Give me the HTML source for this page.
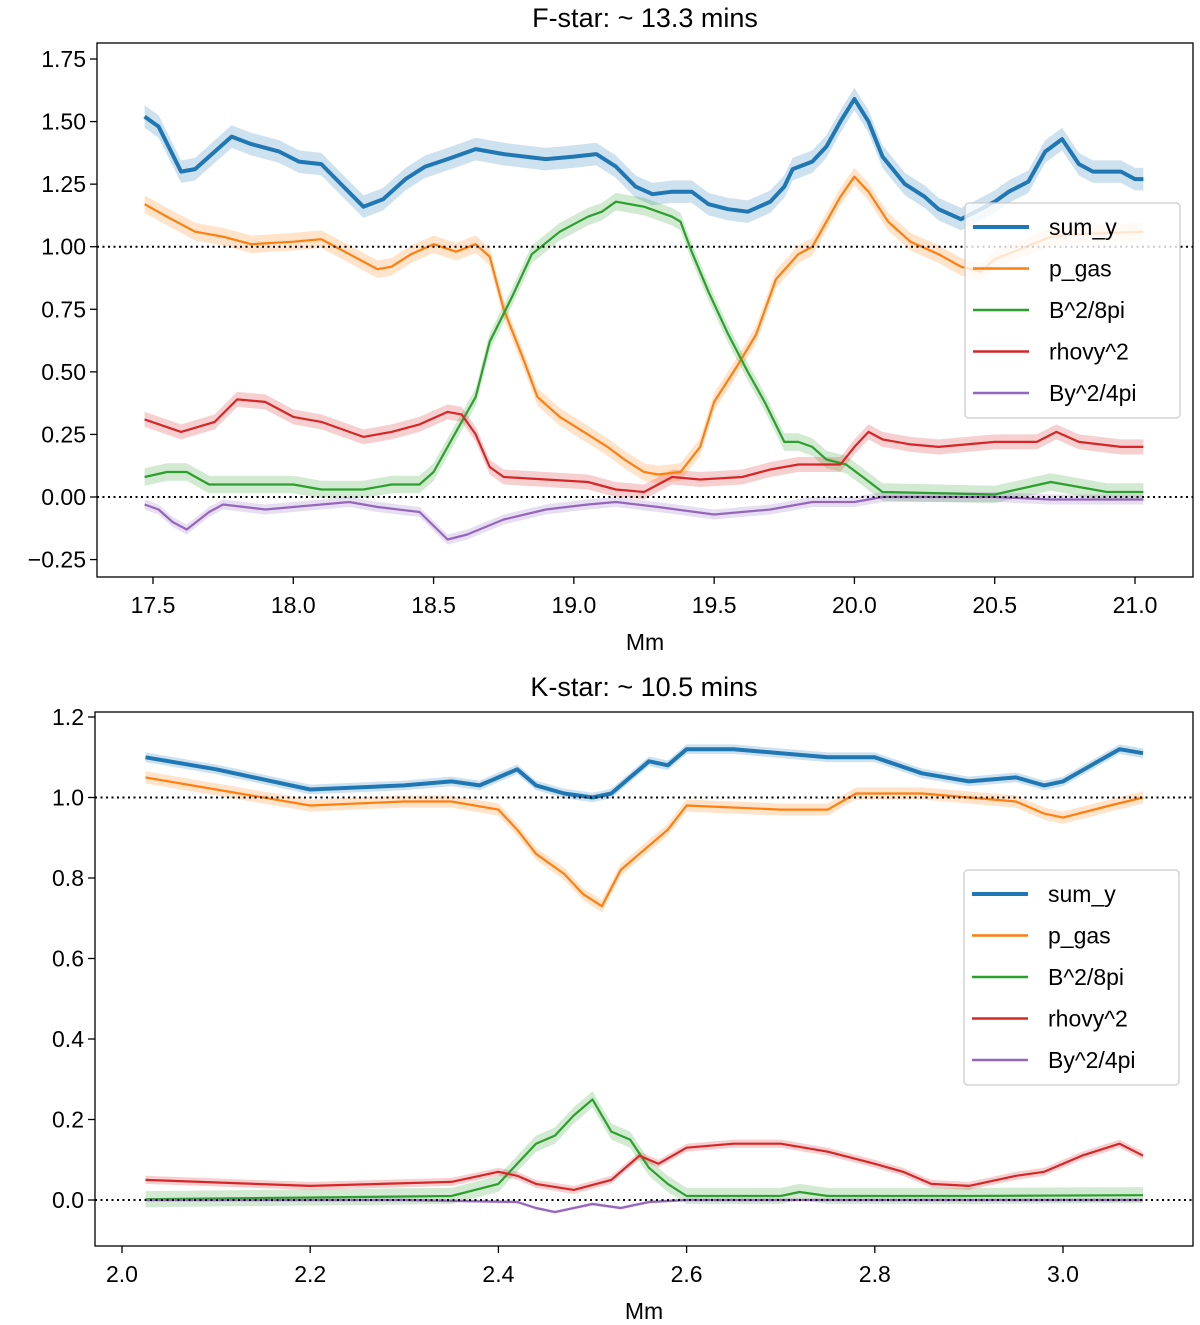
<!DOCTYPE html>
<html><head><meta charset="utf-8">
<style>
body{margin:0;background:#fff;}
svg{display:block;font-family:"Liberation Sans","DejaVu Sans",sans-serif;}
</style></head>
<body>
<svg id="chart" width="1200" height="1325" viewBox="0 0 1200 1325"></svg>
<script>
// ---- Top panel data (F-star) ----
const topSumX=[17.47,17.52,17.6,17.65,17.72,17.78,17.85,17.95,18.02,18.1,18.17,18.25,18.32,18.4,18.47,18.55,18.65,18.75,18.9,19.0,19.08,19.15,19.22,19.28,19.35,19.42,19.48,19.55,19.62,19.7,19.75,19.78,19.85,19.9,19.95,20.0,20.05,20.1,20.18,20.25,20.3,20.38,20.45,20.5,20.55,20.62,20.68,20.74,20.8,20.85,20.95,21.0,21.03];
const topSumY=[1.52,1.48,1.30,1.31,1.38,1.44,1.41,1.38,1.34,1.33,1.25,1.16,1.19,1.27,1.32,1.35,1.39,1.37,1.35,1.36,1.37,1.32,1.24,1.21,1.22,1.22,1.17,1.15,1.14,1.18,1.24,1.31,1.34,1.40,1.50,1.59,1.50,1.36,1.25,1.20,1.15,1.11,1.15,1.18,1.22,1.26,1.38,1.43,1.33,1.30,1.30,1.27,1.27];
const topPgX=[17.47,17.55,17.65,17.75,17.85,18.0,18.1,18.2,18.3,18.35,18.42,18.5,18.58,18.65,18.7,18.75,18.82,18.87,18.95,19.05,19.12,19.18,19.25,19.3,19.38,19.45,19.5,19.58,19.65,19.72,19.8,19.85,19.9,19.95,20.0,20.05,20.12,20.2,20.3,20.38,20.45,20.5,20.7,20.8,21.03];
const topPgY=[1.17,1.12,1.06,1.04,1.01,1.02,1.03,0.97,0.91,0.92,0.97,1.01,0.98,1.01,0.96,0.75,0.55,0.40,0.32,0.25,0.20,0.15,0.10,0.09,0.10,0.20,0.38,0.52,0.65,0.87,0.97,1.00,1.10,1.20,1.28,1.22,1.10,1.02,0.97,0.92,0.90,0.95,1.04,1.05,1.06];
const topBX=[17.47,17.55,17.62,17.7,17.8,18.0,18.1,18.25,18.35,18.45,18.5,18.55,18.6,18.65,18.7,18.78,18.85,18.95,19.05,19.1,19.15,19.25,19.35,19.38,19.42,19.48,19.55,19.62,19.68,19.75,19.8,19.85,19.9,19.97,20.03,20.1,20.5,20.62,20.7,20.8,20.9,21.03];
const topBY=[0.08,0.10,0.10,0.05,0.05,0.05,0.03,0.03,0.05,0.05,0.10,0.20,0.30,0.40,0.62,0.80,0.97,1.06,1.12,1.14,1.18,1.16,1.12,1.10,0.98,0.82,0.65,0.50,0.38,0.22,0.22,0.20,0.15,0.13,0.08,0.02,0.01,0.04,0.06,0.04,0.02,0.02];
const topRX=[17.47,17.6,17.72,17.8,17.9,18.0,18.1,18.25,18.35,18.45,18.55,18.6,18.65,18.7,18.75,18.9,19.05,19.15,19.25,19.35,19.45,19.6,19.7,19.8,19.95,20.0,20.05,20.1,20.2,20.3,20.5,20.65,20.72,20.8,20.95,21.03];
const topRY=[0.31,0.26,0.30,0.39,0.38,0.32,0.30,0.24,0.26,0.29,0.34,0.33,0.25,0.12,0.08,0.07,0.06,0.03,0.02,0.08,0.07,0.08,0.11,0.13,0.13,0.20,0.26,0.23,0.21,0.20,0.22,0.22,0.26,0.22,0.20,0.20];
const topVX=[17.47,17.52,17.57,17.62,17.7,17.75,17.9,18.1,18.2,18.3,18.45,18.55,18.62,18.75,18.9,19.05,19.15,19.3,19.5,19.7,19.85,20.0,20.1,20.5,20.7,21.03];
const topVY=[-0.03,-0.05,-0.10,-0.13,-0.06,-0.03,-0.05,-0.03,-0.02,-0.04,-0.06,-0.17,-0.15,-0.09,-0.05,-0.03,-0.02,-0.04,-0.07,-0.05,-0.02,-0.02,0.0,0.0,-0.01,-0.01];
const topXTicks=[17.5,18.0,18.5,19.0,19.5,20.0,20.5,21.0];
const topXLabels=["17.5","18.0","18.5","19.0","19.5","20.0","20.5","21.0"];
const topYTicks=[-0.25,0,0.25,0.5,0.75,1.0,1.25,1.5,1.75];
const topYLabels=["\u22120.25","0.00","0.25","0.50","0.75","1.00","1.25","1.50","1.75"];
// ---- Bottom panel data (K-star) ----
const botSumX=[2.025,2.1,2.2,2.3,2.35,2.38,2.4,2.42,2.44,2.47,2.5,2.52,2.54,2.56,2.58,2.6,2.65,2.7,2.75,2.8,2.85,2.9,2.95,2.98,3.0,3.03,3.06,3.085];
const botSumY=[1.10,1.07,1.02,1.03,1.04,1.03,1.05,1.07,1.03,1.01,1.00,1.01,1.05,1.09,1.08,1.12,1.12,1.11,1.10,1.10,1.06,1.04,1.05,1.03,1.04,1.08,1.12,1.11];
const botPgX=[2.025,2.1,2.2,2.3,2.35,2.4,2.42,2.44,2.47,2.49,2.51,2.53,2.55,2.58,2.6,2.7,2.75,2.78,2.85,2.95,2.98,3.0,3.05,3.085];
const botPgY=[1.05,1.02,0.98,0.99,0.99,0.97,0.92,0.86,0.81,0.76,0.73,0.82,0.86,0.92,0.98,0.97,0.97,1.01,1.01,0.99,0.96,0.95,0.98,1.00];
const botBX=[2.025,2.35,2.4,2.42,2.44,2.46,2.48,2.5,2.52,2.54,2.56,2.58,2.6,2.7,2.72,2.75,2.9,3.085];
const botBY=[0.002,0.01,0.04,0.09,0.14,0.16,0.21,0.25,0.17,0.15,0.08,0.04,0.01,0.01,0.02,0.01,0.01,0.012];
const botRX=[2.025,2.2,2.35,2.4,2.42,2.44,2.48,2.52,2.55,2.57,2.6,2.65,2.7,2.75,2.8,2.83,2.86,2.9,2.95,2.98,3.02,3.06,3.085];
const botRY=[0.05,0.035,0.045,0.07,0.06,0.04,0.025,0.05,0.11,0.09,0.13,0.14,0.14,0.12,0.09,0.07,0.04,0.035,0.06,0.07,0.11,0.14,0.11];
const botVX=[2.025,2.3,2.42,2.44,2.46,2.5,2.53,2.56,2.6,3.085];
const botVY=[0,0,-0.005,-0.02,-0.03,-0.01,-0.02,-0.005,0,0];
const botXTicks=[2.0,2.2,2.4,2.6,2.8,3.0];
const botXLabels=["2.0","2.2","2.4","2.6","2.8","3.0"];
const botYTicks=[0,0.2,0.4,0.6,0.8,1.0,1.2];
const botYLabels=["0.0","0.2","0.4","0.6","0.8","1.0","1.2"];
const seriesNames=["sum_y","p_gas","B^2/8pi","rhovy^2","By^2/4pi"];

const colors=["#1f77b4","#ff7f0e","#2ca02c","#d62728","#9467bd"];
const NS="http://www.w3.org/2000/svg";
const svg=document.getElementById('chart');
function mk(tag,attrs,parent){const e=document.createElementNS(NS,tag);for(const k in attrs)e.setAttribute(k,attrs[k]);(parent||svg).appendChild(e);return e;}

function panel(cfg){
  const g=mk('g',{});
  
  
  const xs=v=>cfg.px0+(v-cfg.x0)*(cfg.px1-cfg.px0)/(cfg.x1-cfg.x0);
  const ys=v=>cfg.py0+(v-cfg.y0)*(cfg.py1-cfg.py0)/(cfg.y1-cfg.y0);
  // bands + lines
  const order=[0,1,2,3,4];
  order.forEach(i=>{
    const X=cfg.series[i][0],Y=cfg.series[i][1],w=cfg.band[i];
    let up=X.map((x,j)=>xs(x).toFixed(1)+','+ys(Y[j]+w).toFixed(1));
    let dn=X.map((x,j)=>xs(x).toFixed(1)+','+ys(Y[j]-w).toFixed(1)).reverse();
    const b=mk('polygon',{points:up.concat(dn).join(' '),fill:colors[i],opacity:0.22},g);
    
    
  });
  order.forEach(i=>{
    const X=cfg.series[i][0],Y=cfg.series[i][1];
    const l=mk('polyline',{points:X.map((x,j)=>xs(x).toFixed(1)+','+ys(Y[j]).toFixed(1)).join(' '),fill:'none',stroke:colors[i],'stroke-width':i==0?4:2.2,'stroke-linejoin':'round'},g);
    
    
  });
  // reference dotted lines
  [0,1].forEach(v=>{
    const r=mk('line',{x1:cfg.bx0,x2:cfg.bx1,y1:ys(v),y2:ys(v),stroke:'#000','stroke-width':2,'stroke-dasharray':'2,3.5'},g);
    
    
  });
  const fr=mk('rect',{x:cfg.bx0,y:cfg.by0,width:cfg.bx1-cfg.bx0,height:cfg.by1-cfg.by0,fill:'none',stroke:'#000','stroke-width':1.3},g);
  
  
  cfg.xt.forEach((v,k)=>{
    mk('line',{x1:xs(v),x2:xs(v),y1:cfg.by1,y2:cfg.by1+7,stroke:'#000','stroke-width':1.3},g);
    const t=mk('text',{x:xs(v),y:cfg.by1+36,'text-anchor':'middle','font-size':23,fill:'#000'},g);
    t.textContent=cfg.xl[k];
    
    
  });
  cfg.yt.forEach((v,k)=>{
    mk('line',{x1:cfg.bx0-7,x2:cfg.bx0,y1:ys(v),y2:ys(v),stroke:'#000','stroke-width':1.3},g);
    const t=mk('text',{x:cfg.bx0-11,y:ys(v)+8,'text-anchor':'end','font-size':23,fill:'#000'},g);
    t.textContent=cfg.yl[k];
    
    
  });
  const xt=mk('text',{x:(cfg.bx0+cfg.bx1)/2,y:cfg.by1+73,'text-anchor':'middle','font-size':23},g);
  xt.textContent='Mm';
  
  
  const tt=mk('text',{x:(cfg.bx0+cfg.bx1)/2,y:cfg.by0-16,'text-anchor':'middle','font-size':27},g);
  tt.textContent=cfg.title;
  
  
  // legend
  const L=cfg.leg;
  const lg=mk('g',{},g);
  
  
  mk('rect',{x:L.x,y:L.y,width:215,height:215,rx:4,fill:'#fff','fill-opacity':0.8,stroke:'#ccc','stroke-width':1.3},lg);
  seriesNames.forEach((n,i)=>{
    const yy=L.y+24+i*41.5;
    mk('line',{x1:L.x+8,x2:L.x+64,y1:yy,y2:yy,stroke:colors[i],'stroke-width':i==0?4:2.4},lg);
    const t=mk('text',{x:L.x+84,y:yy+8,'font-size':23},lg);
    t.textContent=n;
    
    
  });
}

panel({name:'f-star-panel',title:'F-star: ~ 13.3 mins',
  x0:17.5,x1:21.0,px0:153,px1:1135,y0:0,y1:1.75,py0:497,py1:59,
  bx0:97,bx1:1193,by0:43,by1:577,
  series:[[topSumX,topSumY],[topPgX,topPgY],[topBX,topBY],[topRX,topRY],[topVX,topVY]],
  band:[0.045,0.035,0.035,0.03,0.02],
  xt:topXTicks,xl:topXLabels,yt:topYTicks,yl:topYLabels,leg:{x:965,y:203}});
panel({name:'k-star-panel',title:'K-star: ~ 10.5 mins',
  x0:2.0,x1:3.0,px0:122,px1:1063,y0:0,y1:1.2,py0:1200,py1:717,
  bx0:95,bx1:1193,by0:712,by1:1246,
  series:[[botSumX,botSumY],[botPgX,botPgY],[botBX,botBY],[botRX,botRY],[botVX,botVY]],
  band:[0.012,0.015,0.02,0.01,0.004],
  xt:botXTicks,xl:botXLabels,yt:botYTicks,yl:botYLabels,leg:{x:964,y:870}});
</script>
</body></html>
